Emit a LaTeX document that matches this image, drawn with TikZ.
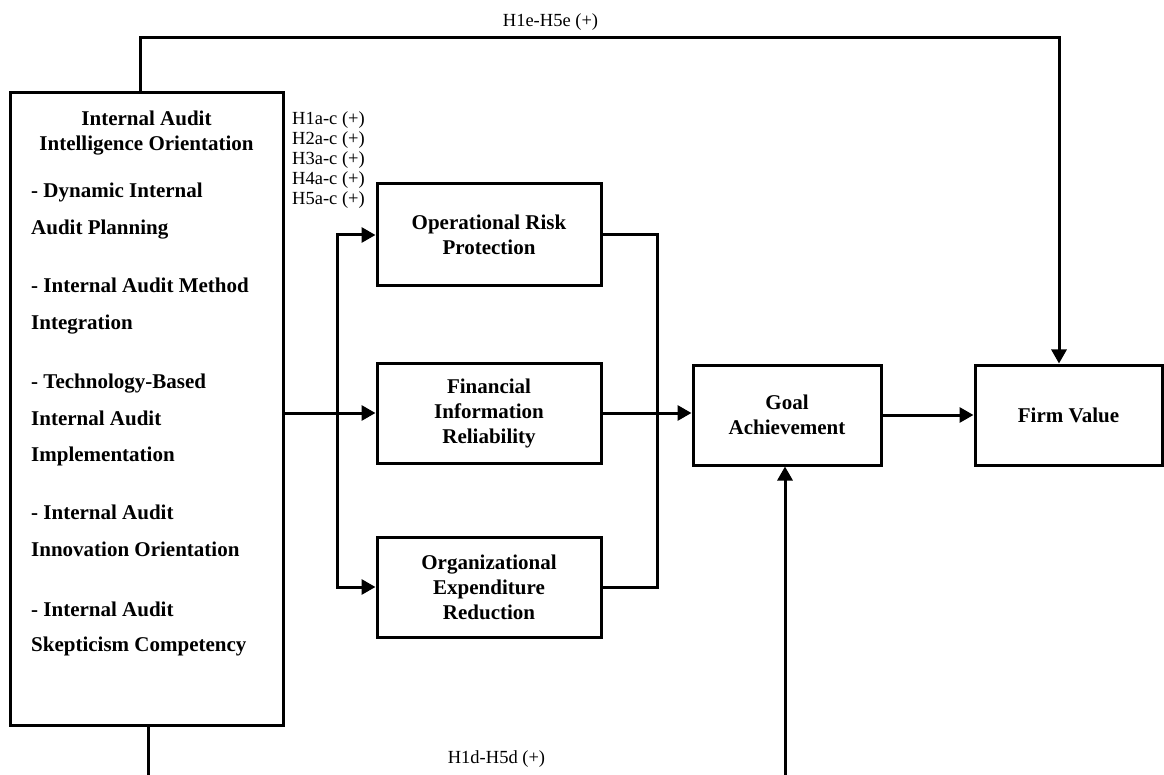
\documentclass[tikz,border=0pt]{standalone}
\usepackage{fontspec}
\setmainfont{Liberation Serif}
\usetikzlibrary{arrows.meta}
\begin{document}
\begin{tikzpicture}[x=1pt,y=-1pt,
  box/.style={draw, line width=3pt, inner sep=0pt, align=center,
    font=\fontsize{21}{25}\selectfont\bfseries},
  conn/.style={line width=3pt, line join=miter},
  tip/.style={},
  arr/.style={conn, -{Triangle[length=14pt,width=15pt]}},
  biarr/.style={conn, {Triangle[length=14pt,width=15pt]}-{Triangle[length=14pt,width=15pt]}},
  heading/.style={anchor=base, inner sep=0pt, font=\fontsize{21}{25}\selectfont\bfseries},
  item/.style={anchor=base west, inner sep=0pt, font=\fontsize{21}{25}\selectfont\bfseries},
  hyp/.style={anchor=base west, inner sep=0pt, font=\fontsize{18.5}{20}\selectfont},
  hypc/.style={anchor=base, inner sep=0pt, font=\fontsize{18.5}{20}\selectfont},
]
\useasboundingbox (0,0) rectangle (1164,775);

% independent variable box and its contents
\node[box, minimum width=273pt, minimum height=632pt] (main) at (146.5,409) {};
\node[heading] (ttl1) at (146.5,126) {Internal Audit};
\node[heading] (ttl2) at (146.5,151) {Intelligence Orientation};
\node[item] (d1a) at (31,198) {- Dynamic Internal};
\node[item] (d1b) at (31,235) {Audit Planning};
\node[item] (d2a) at (31,293) {- Internal Audit Method};
\node[item] (d2b) at (31,330) {Integration};
\node[item] (d3a) at (31,388) {- Technology-Based};
\node[item] (d3b) at (31,425) {Internal Audit};
\node[item] (d3c) at (31,461) {Implementation};
\node[item] (d4a) at (31,519) {- Internal Audit};
\node[item] (d4b) at (31,556) {Innovation Orientation};
\node[item] (d5a) at (31,616) {- Internal Audit};
\node[item] (d5b) at (31,651) {Skepticism Competency};

% mediators, outcome and firm value
\node[box, minimum width=224pt, minimum height=102pt] (orp) at (489,235) {Operational Risk\\Protection};
\node[box, minimum width=224pt, minimum height=100pt] (fir) at (489,413) {Financial\\Information\\Reliability};
\node[box, minimum width=224pt, minimum height=100pt] (oer) at (489,587) {Organizational\\Expenditure\\Reduction};
\node[box, minimum width=188pt, minimum height=100pt] (goal) at (787,415) {Goal\\Achievement};
\node[box, minimum width=187pt, minimum height=100pt] (firm) at (1068.5,415) {Firm Value};

% hypothesis labels
\node[hyp] (h1) at (292,125) {H1a-c (+)};
\node[hyp] (h2) at (292,145) {H2a-c (+)};
\node[hyp] (h3) at (292,165) {H3a-c (+)};
\node[hyp] (h4) at (292,185) {H4a-c (+)};
\node[hyp] (h5) at (292,205) {H5a-c (+)};
\node[hypc] (he) at (550.5,27) {H1e-H5e (+)};
\node[hypc] (hd) at (496.5,763) {H1d-H5d (+)};

% routing points
\coordinate (topl) at (140,38);
\coordinate (topr) at (1059,38);
\coordinate (split) at (337,413);
\coordinate (merge) at (657,413);
\coordinate (botl) at (148,775);
\coordinate (botr) at (785,775);

% connectors
\draw[arr] (main.north -| topl) -- (topl) -- (topr) -- (topr |- firm.north);
\draw[arr] (main.east |- fir.west) -- (fir.west);
\draw[biarr] (orp.west) -- (split |- orp.west) -- (split |- oer.west) -- (oer.west);
\draw[conn] (orp.east) -- (merge |- orp.east) -- (merge |- oer.east) -- (oer.east);
\draw[arr] (fir.east) -- (goal.west |- fir.east);
\draw[arr] (goal.east) -- (firm.west |- goal.east);
\draw[conn] (main.south -| botl) -- (botl);
\draw[arr] (botr) -- (botr |- goal.south);
\end{tikzpicture}
\end{document}
